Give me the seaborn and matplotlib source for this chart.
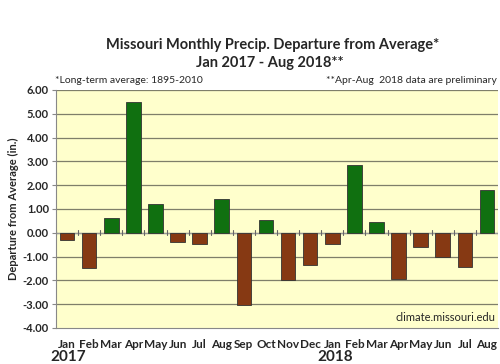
import matplotlib
matplotlib.use("Agg")
import matplotlib.pyplot as plt
import seaborn as sns
import pandas as pd

months = ["Jan", "Feb", "Mar", "Apr", "May", "Jun", "Jul", "Aug", "Sep", "Oct",
          "Nov", "Dec", "Jan", "Feb", "Mar", "Apr", "May", "Jun", "Jul", "Aug"]
years = ["2017"] * 12 + ["2018"] * 8
departure = [-0.30, -1.48, 0.61, 5.49, 1.19, -0.37, -0.46, 1.40, -3.05, 0.54,
             -2.00, -1.35, -0.48, 2.84, 0.47, -1.96, -0.61, -1.01, -1.42, 1.78]
yticks = [-4, -3, -2, -1, 0, 1, 2, 3, 4, 5, 6]

df = pd.DataFrame({"month": [m + " " + y for m, y in zip(months, years)],
                   "value": departure})
df["sign"] = ["pos" if v >= 0 else "neg" for v in df["value"]]

sns.set_style("white")
plt.rcParams["font.family"] = ["Lato", "DejaVu Sans"]

fig = plt.figure(figsize=(5, 3.64), dpi=100)
ax = fig.add_axes([0.112, 0.099, 0.884, 0.654])
ax.set_facecolor("#ffffcc")

sns.barplot(data=df, x="month", y="value", hue="sign",
            palette={"pos": "#008000", "neg": "#993300"},
            width=0.66, edgecolor="#333333", linewidth=0.6,
            legend=False, ax=ax, zorder=3)

ax.set_ylim(-4, 6)
ax.set_xlim(-0.5, len(months) - 0.5)
ax.set_yticks(yticks)
ax.set_yticklabels([f"{t:.2f}" for t in yticks], fontsize=8, fontweight="bold")
for t in yticks[1:]:
    ax.axhline(t, color="#7f7f6a", lw=0.9, zorder=1)
ax.axhline(0, color="#999999", lw=0.9, zorder=2)

# small tick marks between months along the zero line
for i in range(len(months) + 1):
    ax.plot([i - 0.5, i - 0.5], [-0.1, 0.1], color="#666666", lw=0.8, zorder=2)

ax.set_xticks(range(len(months)))
ax.set_xticklabels(months, fontsize=8.5, fontweight="bold")
ax.tick_params(axis="x", length=0, pad=8)
ax.tick_params(axis="y", length=3, pad=2, left=True, color="#888888")
ax.set_xlabel("")
ax.set_ylabel("Departure from Average (in.)", fontsize=8, fontweight="bold", labelpad=3)

for s in ["top", "right"]:
    ax.spines[s].set_visible(False)
for s in ["left", "bottom"]:
    ax.spines[s].set_color("#888888")

# year labels
fig.text(0.10, 0.008, "2017", fontsize=11, fontweight="bold")
fig.text(0.634, 0.008, "2018", fontsize=11, fontweight="bold")

fig.text(0.545, 0.865, "Missouri Monthly Precip. Departure from Average*",
         ha="center", fontsize=10.5, fontweight="bold")
fig.text(0.54, 0.815, "Jan 2017 - Aug 2018**", ha="center", fontsize=10.5,
         fontweight="bold")
fig.text(0.11, 0.772, "*Long-term average: 1895-2010", fontsize=7.5)
fig.text(0.993, 0.772, "**Apr-Aug  2018 data are preliminary", ha="right", fontsize=7.5)
ax.text(0.993, 0.02, "climate.missouri.edu", transform=ax.transAxes,
        ha="right", va="bottom", fontsize=8, zorder=4)

fig.savefig("out.png", dpi=100, facecolor="white")
